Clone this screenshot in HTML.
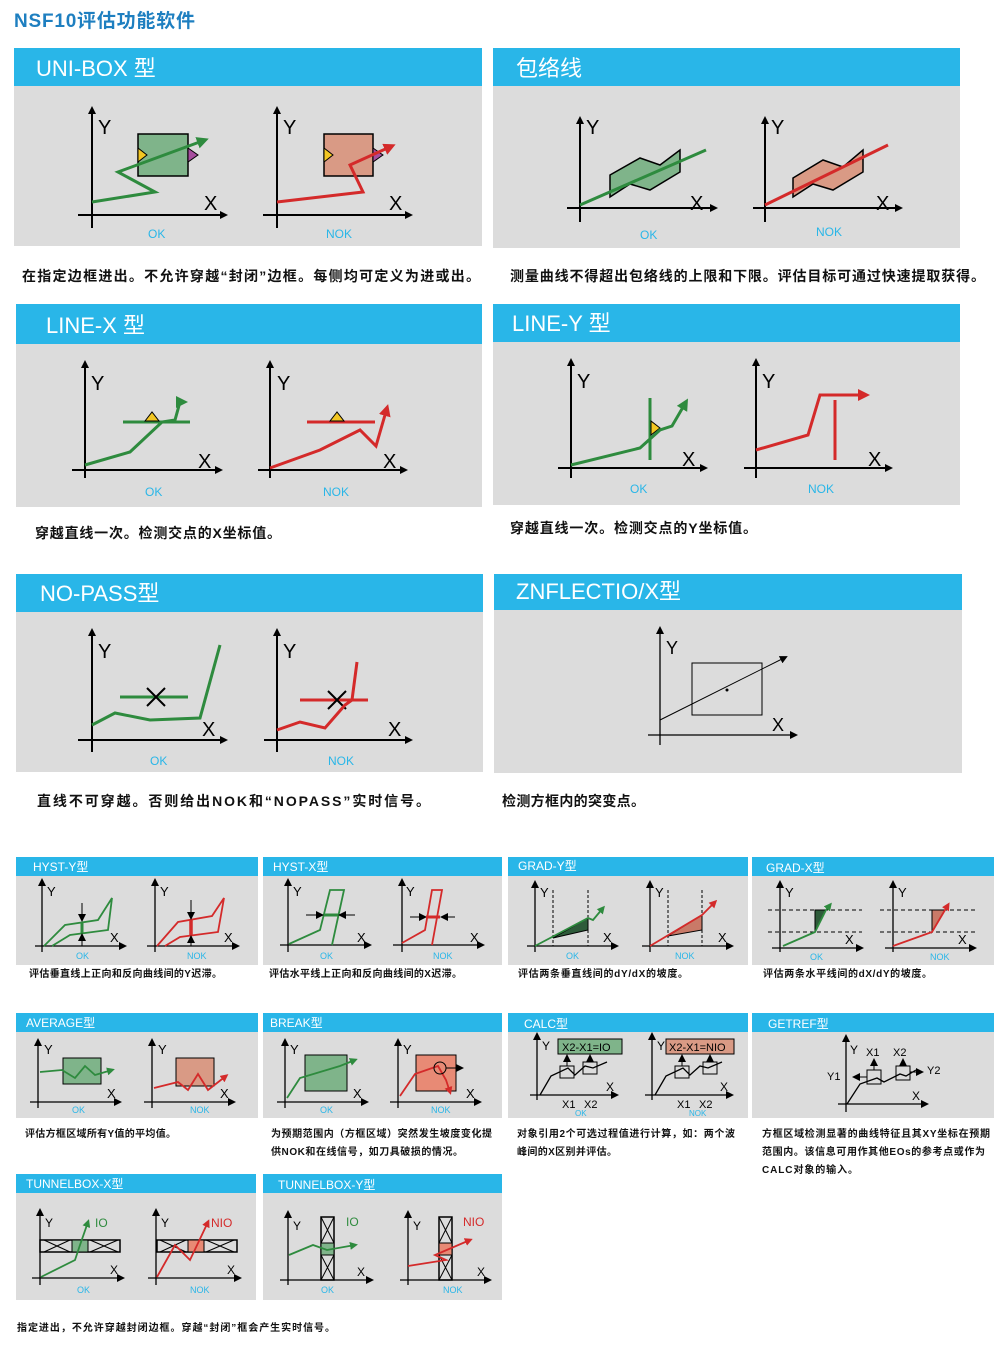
<!DOCTYPE html>
<html><head><meta charset="utf-8"><style>
html,body{margin:0;padding:0;background:#fff}
svg{display:block}
text{font-family:"Liberation Sans","Noto Sans CJK SC",sans-serif}
.hd{fill:#fff}
.cap{font-weight:bold;fill:#111}
.ok{fill:#29b6e8}
.ax{stroke:#000;stroke-width:2;fill:none}
.axs{stroke:#000;stroke-width:1.3;fill:none}
.g{stroke:#2e8b3e;stroke-width:3;fill:none}
.r{stroke:#d42a2a;stroke-width:3;fill:none}
.gs{stroke:#2e8b3e;stroke-width:1.8;fill:none}
.rs{stroke:#d42a2a;stroke-width:1.8;fill:none}
.bx{stroke:#000;stroke-width:1.5}
</style></head><body>
<svg width="1000" height="1347" viewBox="0 0 1000 1347" xmlns="http://www.w3.org/2000/svg">
<defs>
<marker id="ak" markerWidth="8" markerHeight="8" refX="6" refY="4" orient="auto" markerUnits="userSpaceOnUse"><path d="M0,0 L8,4 L0,8z" fill="#000"/></marker>
<marker id="ag" markerWidth="12" markerHeight="12" refX="8" refY="6" orient="auto" markerUnits="userSpaceOnUse"><path d="M0,0 L12,6 L0,12z" fill="#2e8b3e"/></marker>
<marker id="ar" markerWidth="12" markerHeight="12" refX="8" refY="6" orient="auto" markerUnits="userSpaceOnUse"><path d="M0,0 L12,6 L0,12z" fill="#d42a2a"/></marker>
<marker id="ags" markerWidth="8" markerHeight="8" refX="5" refY="4" orient="auto" markerUnits="userSpaceOnUse"><path d="M0,0 L8,4 L0,8z" fill="#2e8b3e"/></marker>
<marker id="ars" markerWidth="8" markerHeight="8" refX="5" refY="4" orient="auto" markerUnits="userSpaceOnUse"><path d="M0,0 L8,4 L0,8z" fill="#d42a2a"/></marker>
</defs>

<text x="14" y="27" font-size="19" font-weight="bold" fill="#1e7fc0" textLength="181" lengthAdjust="spacing">NSF10评估功能软件</text>

<rect x="14" y="48" width="468" height="38" fill="#29b6e8"/><rect x="14" y="86" width="468" height="160" fill="#dcdcdc"/>
<text class="hd" x="36" y="76" font-size="22">UNI-BOX 型</text>
<rect x="493" y="48" width="467" height="38" fill="#29b6e8"/><rect x="493" y="86" width="467" height="162" fill="#dcdcdc"/>
<text class="hd" x="516" y="76" font-size="22">包络线</text>
<text class="cap" x="22" y="281" font-size="14" textLength="458" lengthAdjust="spacing">在指定边框进出。不允许穿越“封闭”边框。每侧均可定义为进或出。</text>
<text class="cap" x="510" y="281" font-size="14" textLength="475" lengthAdjust="spacing">测量曲线不得超出包络线的上限和下限。评估目标可通过快速提取获得。</text>

<rect x="16" y="304" width="466" height="40" fill="#29b6e8"/><rect x="16" y="344" width="466" height="163" fill="#dcdcdc"/>
<text class="hd" x="46" y="333" font-size="22">LINE-X 型</text>
<rect x="493" y="304" width="467" height="38" fill="#29b6e8"/><rect x="493" y="342" width="467" height="163" fill="#dcdcdc"/>
<text class="hd" x="512" y="331" font-size="22">LINE-Y 型</text>
<text class="cap" x="35" y="538" font-size="14" textLength="246" lengthAdjust="spacing">穿越直线一次。检测交点的X坐标值。</text>
<text class="cap" x="510" y="533" font-size="14" textLength="247" lengthAdjust="spacing">穿越直线一次。检测交点的Y坐标值。</text>

<rect x="16" y="574" width="467" height="38" fill="#29b6e8"/><rect x="16" y="612" width="467" height="160" fill="#dcdcdc"/>
<text class="hd" x="40" y="601" font-size="22">NO-PASS型</text>
<rect x="494" y="574" width="468" height="36" fill="#29b6e8"/><rect x="494" y="610" width="468" height="163" fill="#dcdcdc"/>
<text class="hd" x="516" y="599" font-size="22">ZNFLECTIO/X型</text>
<text class="cap" x="37" y="806" font-size="14" textLength="393" lengthAdjust="spacing">直线不可穿越。否则给出NOK和“NOPASS”实时信号。</text>
<text class="cap" x="502" y="806" font-size="14" textLength="143" lengthAdjust="spacing">检测方框内的突变点。</text>

<g>
<line class="ax" x1="92" y1="228" x2="92" y2="108" marker-end="url(#ak)"/><line class="ax" x1="78" y1="215" x2="226" y2="215" marker-end="url(#ak)"/>
<text x="98" y="134" font-size="20">Y</text><text x="204" y="210" font-size="20">X</text>
<rect x="138" y="134" width="50" height="42" fill="#7fb48a" class="bx"/>
<path d="M138,148 L147,155 L138,162z" fill="#f2c623" stroke="#000"/><path d="M188,148 L198,155 L188,162z" fill="#a64d9e" stroke="#000"/>
<polyline class="g" points="92,202 155,192 118,172 205,140" marker-end="url(#ag)"/>
<text class="ok" x="148" y="238" font-size="12">OK</text>
<line class="ax" x1="277" y1="228" x2="277" y2="108" marker-end="url(#ak)"/><line class="ax" x1="263" y1="215" x2="411" y2="215" marker-end="url(#ak)"/>
<text x="283" y="134" font-size="20">Y</text><text x="389" y="210" font-size="20">X</text>
<rect x="324" y="134" width="49" height="42" fill="#d99a85" class="bx"/>
<path d="M324,148 L333,155 L324,162z" fill="#f2c623" stroke="#000"/><path d="M373,148 L383,155 L373,162z" fill="#a64d9e" stroke="#000"/>
<polyline class="r" points="277,202 363,192 350,165 392,146" marker-end="url(#ar)"/>
<text class="ok" x="326" y="238" font-size="12">NOK</text>
</g>
<g>
<line class="ax" x1="580" y1="222" x2="580" y2="118" marker-end="url(#ak)"/><line class="ax" x1="567" y1="208" x2="716" y2="208" marker-end="url(#ak)"/>
<text x="586" y="134" font-size="20">Y</text><text x="690" y="210" font-size="20">X</text>
<path d="M610,175 L640,158 L660,165 L680,150 L680,172 L650,190 L630,184 L610,197z" fill="#7fb48a" stroke="#000" stroke-width="1.5"/>
<line class="g" x1="580" y1="205" x2="706" y2="150"/>
<text class="ok" x="640" y="239" font-size="12">OK</text>
<line class="ax" x1="765" y1="222" x2="765" y2="118" marker-end="url(#ak)"/><line class="ax" x1="753" y1="208" x2="901" y2="208" marker-end="url(#ak)"/>
<text x="771" y="134" font-size="20">Y</text><text x="876" y="210" font-size="20">X</text>
<path d="M793,178 L823,160 L843,167 L863,150 L863,172 L833,190 L813,184 L793,197z" fill="#d99a85" stroke="#000" stroke-width="1.5"/>
<line class="r" x1="765" y1="205" x2="888" y2="145"/>
<text class="ok" x="816" y="236" font-size="12">NOK</text>
</g>
<g>
<line class="ax" x1="85" y1="478" x2="85" y2="362" marker-end="url(#ak)"/><line class="ax" x1="72" y1="470" x2="221" y2="470" marker-end="url(#ak)"/>
<text x="91" y="390" font-size="20">Y</text><text x="198" y="468" font-size="20">X</text>
<line class="g" x1="123" y1="422" x2="190" y2="422"/><path d="M145,421 L152,412 L159,421z" fill="#f2c623" stroke="#000"/>
<polyline class="g" points="85,465 130,452 162,422 175,420 180,402 184,402" marker-end="url(#ag)"/>
<text class="ok" x="145" y="496" font-size="12">OK</text>
<line class="ax" x1="270" y1="478" x2="270" y2="362" marker-end="url(#ak)"/><line class="ax" x1="258" y1="470" x2="406" y2="470" marker-end="url(#ak)"/>
<text x="277" y="390" font-size="20">Y</text><text x="383" y="468" font-size="20">X</text>
<line class="r" x1="307" y1="422" x2="375" y2="422"/><path d="M330,421 L337,412 L344,421z" fill="#f2c623" stroke="#000"/>
<polyline class="r" points="270,468 320,450 360,430 376,446 387,408" marker-end="url(#ar)"/>
<text class="ok" x="323" y="496" font-size="12">NOK</text>
</g>
<g>
<line class="ax" x1="571" y1="478" x2="571" y2="360" marker-end="url(#ak)"/><line class="ax" x1="558" y1="468" x2="706" y2="468" marker-end="url(#ak)"/>
<text x="577" y="388" font-size="20">Y</text><text x="682" y="466" font-size="20">X</text>
<line class="g" x1="650" y1="398" x2="650" y2="460"/><path d="M651,421 L660,428 L651,435z" fill="#f2c623" stroke="#000"/>
<polyline class="g" points="571,465 640,448 660,430 672,426 686,402" marker-end="url(#ag)"/>
<text class="ok" x="630" y="493" font-size="12">OK</text>
<line class="ax" x1="756" y1="478" x2="756" y2="360" marker-end="url(#ak)"/><line class="ax" x1="744" y1="468" x2="891" y2="468" marker-end="url(#ak)"/>
<text x="762" y="388" font-size="20">Y</text><text x="868" y="466" font-size="20">X</text>
<polyline class="r" points="756,450 808,435 820,395 866,395" marker-end="url(#ar)"/>
<line class="r" x1="835" y1="400" x2="835" y2="460"/>
<text class="ok" x="808" y="493" font-size="12">NOK</text>
</g>
<g>
<line class="ax" x1="92" y1="752" x2="92" y2="630" marker-end="url(#ak)"/><line class="ax" x1="78" y1="740" x2="226" y2="740" marker-end="url(#ak)"/>
<text x="98" y="658" font-size="20">Y</text><text x="202" y="736" font-size="20">X</text>
<line class="g" x1="120" y1="697" x2="188" y2="697"/><path d="M147,688 L165,706 M165,688 L147,706" stroke="#000" stroke-width="2"/>
<polyline class="g" points="92,725 115,713 150,720 200,718 220,645"/>
<text class="ok" x="150" y="765" font-size="12">OK</text>
<line class="ax" x1="277" y1="752" x2="277" y2="630" marker-end="url(#ak)"/><line class="ax" x1="264" y1="740" x2="411" y2="740" marker-end="url(#ak)"/>
<text x="283" y="658" font-size="20">Y</text><text x="388" y="736" font-size="20">X</text>
<line class="r" x1="300" y1="700" x2="368" y2="700"/><path d="M328,691 L346,709 M346,691 L328,709" stroke="#000" stroke-width="2"/>
<polyline class="r" points="277,730 300,722 325,728 345,705 352,700 357,662"/>
<text class="ok" x="328" y="765" font-size="12">NOK</text>
</g>
<g>
<line class="axs" x1="660" y1="745" x2="660" y2="628" marker-end="url(#ak)"/><line class="axs" x1="648" y1="735" x2="796" y2="735" marker-end="url(#ak)"/>
<text x="666" y="654" font-size="18">Y</text><text x="772" y="731" font-size="18">X</text>
<rect x="692" y="663" width="70" height="52" fill="none" stroke="#000" stroke-width="1"/>
<line x1="660" y1="720" x2="786" y2="657" stroke="#000" stroke-width="1" marker-end="url(#ak)"/>
<circle cx="727" cy="690" r="1.5"/>
</g>

<g font-size="11">
<rect x="16" y="857" width="242" height="19" fill="#29b6e8"/><rect x="16" y="876" width="242" height="89" fill="#dcdcdc"/>
<text class="hd" x="33" y="871" font-size="12">HYST-Y型</text>
<rect x="263" y="857" width="239" height="19" fill="#29b6e8"/><rect x="263" y="876" width="239" height="89" fill="#dcdcdc"/>
<text class="hd" x="273" y="871" font-size="12">HYST-X型</text>
<rect x="508" y="857" width="240" height="19" fill="#29b6e8"/><rect x="508" y="876" width="240" height="89" fill="#dcdcdc"/>
<text class="hd" x="518" y="870" font-size="12">GRAD-Y型</text>
<rect x="752" y="857" width="242" height="19" fill="#29b6e8"/><rect x="752" y="876" width="242" height="89" fill="#dcdcdc"/>
<text class="hd" x="766" y="872" font-size="12">GRAD-X型</text>
<text class="cap" x="29" y="977" font-size="10" textLength="193" lengthAdjust="spacing">评估垂直线上正向和反向曲线间的Y迟滞。</text>
<text class="cap" x="269" y="977" font-size="10" textLength="193" lengthAdjust="spacing">评估水平线上正向和反向曲线间的X迟滞。</text>
<text class="cap" x="518" y="977" font-size="10" textLength="170" lengthAdjust="spacing">评估两条垂直线间的dY/dX的坡度。</text>
<text class="cap" x="763" y="977" font-size="10" textLength="169" lengthAdjust="spacing">评估两条水平线间的dX/dY的坡度。</text>

<line class="axs" x1="42" y1="952" x2="42" y2="880" marker-end="url(#ak)"/><line class="axs" x1="35" y1="946" x2="125" y2="946" marker-end="url(#ak)"/>
<text x="47" y="896" font-size="13">Y</text><text x="110" y="942" font-size="13">X</text>
<path d="M44,946 L65,925 L98,920 L112,898 L108,930 L70,935 L52,946" class="gs"/>
<line x1="82" y1="903" x2="82" y2="920" stroke="#000" marker-end="url(#ak)"/><line x1="82" y1="946" x2="82" y2="935" stroke="#000" marker-end="url(#ak)"/>
<line x1="82" y1="922" x2="82" y2="933" stroke="#2e8b3e" stroke-width="3"/>
<text class="ok" x="76" y="959" font-size="9">OK</text>
<line class="axs" x1="155" y1="952" x2="155" y2="880" marker-end="url(#ak)"/><line class="axs" x1="147" y1="946" x2="238" y2="946" marker-end="url(#ak)"/>
<text x="160" y="896" font-size="13">Y</text><text x="224" y="942" font-size="13">X</text>
<path d="M157,946 L178,922 L212,916 L224,898 L218,932 L180,937 L165,946" class="rs"/>
<line x1="191" y1="900" x2="191" y2="918" stroke="#000" marker-end="url(#ak)"/><line x1="191" y1="946" x2="191" y2="937" stroke="#000" marker-end="url(#ak)"/>
<line x1="191" y1="920" x2="191" y2="935" stroke="#d42a2a" stroke-width="3.5"/>
<text class="ok" x="187" y="959" font-size="9">NOK</text>
<line class="axs" x1="288" y1="952" x2="288" y2="880" marker-end="url(#ak)"/><line class="axs" x1="280" y1="945" x2="370" y2="945" marker-end="url(#ak)"/>
<text x="293" y="896" font-size="13">Y</text><text x="357" y="942" font-size="13">X</text>
<path d="M289,944 L320,930 L330,890 L344,890 L332,945" class="gs"/>
<line x1="306" y1="915" x2="322" y2="915" stroke="#000" marker-end="url(#ak)"/><line x1="355" y1="915" x2="340" y2="915" stroke="#000" marker-end="url(#ak)"/>
<line x1="324" y1="915" x2="338" y2="915" stroke="#2e8b3e" stroke-width="3"/>
<text class="ok" x="320" y="959" font-size="9">OK</text>
<line class="axs" x1="402" y1="952" x2="402" y2="880" marker-end="url(#ak)"/><line class="axs" x1="393" y1="945" x2="483" y2="945" marker-end="url(#ak)"/>
<text x="406" y="896" font-size="13">Y</text><text x="470" y="942" font-size="13">X</text>
<path d="M402,943 L425,930 L432,890 L442,890 L432,945" class="rs"/>
<line x1="410" y1="917" x2="425" y2="917" stroke="#000" marker-end="url(#ak)"/><line x1="455" y1="917" x2="442" y2="917" stroke="#000" marker-end="url(#ak)"/>
<line x1="426" y1="917" x2="440" y2="917" stroke="#d42a2a" stroke-width="3"/>
<text class="ok" x="433" y="959" font-size="9">NOK</text>
<line class="axs" x1="535" y1="952" x2="535" y2="882" marker-end="url(#ak)"/><line class="axs" x1="527" y1="946" x2="617" y2="946" marker-end="url(#ak)"/>
<text x="540" y="897" font-size="13">Y</text><text x="603" y="942" font-size="13">X</text>
<line x1="553" y1="890" x2="553" y2="946" stroke="#000" stroke-dasharray="3,2"/><line x1="588" y1="890" x2="588" y2="946" stroke="#000" stroke-dasharray="3,2"/>
<path d="M553,938 L588,918 L588,930z" fill="#2e5b3a" stroke="#000"/>
<polyline class="gs" points="535,946 588,918 593,920 603,908" marker-end="url(#ags)"/>
<text class="ok" x="566" y="959" font-size="9">OK</text>
<line class="axs" x1="650" y1="952" x2="650" y2="882" marker-end="url(#ak)"/><line class="axs" x1="642" y1="946" x2="732" y2="946" marker-end="url(#ak)"/>
<text x="655" y="897" font-size="13">Y</text><text x="718" y="942" font-size="13">X</text>
<line x1="668" y1="890" x2="668" y2="946" stroke="#000" stroke-dasharray="3,2"/><line x1="702" y1="890" x2="702" y2="946" stroke="#000" stroke-dasharray="3,2"/>
<path d="M668,936 L702,915 L702,930z" fill="#c97a68" stroke="#000"/>
<polyline class="rs" points="650,946 702,915 715,902" marker-end="url(#ars)"/>
<text class="ok" x="675" y="959" font-size="9">NOK</text>
<line class="axs" x1="780" y1="952" x2="780" y2="882" marker-end="url(#ak)"/><line class="axs" x1="772" y1="948" x2="862" y2="948" marker-end="url(#ak)"/>
<text x="785" y="897" font-size="13">Y</text><text x="845" y="944" font-size="13">X</text>
<line x1="768" y1="910" x2="862" y2="910" stroke="#000" stroke-dasharray="4,3"/><line x1="768" y1="932" x2="862" y2="932" stroke="#000" stroke-dasharray="4,3"/>
<path d="M815,932 L815,910 L826,910z" fill="#2e5b3a" stroke="#000"/>
<polyline class="gs" points="783,946 815,932 826,910 830,905" marker-end="url(#ags)"/>
<text class="ok" x="810" y="960" font-size="9">OK</text>
<line class="axs" x1="893" y1="952" x2="893" y2="882" marker-end="url(#ak)"/><line class="axs" x1="885" y1="948" x2="975" y2="948" marker-end="url(#ak)"/>
<text x="898" y="897" font-size="13">Y</text><text x="958" y="944" font-size="13">X</text>
<line x1="880" y1="910" x2="975" y2="910" stroke="#000" stroke-dasharray="4,3"/><line x1="880" y1="932" x2="975" y2="932" stroke="#000" stroke-dasharray="4,3"/>
<path d="M932,932 L932,910 L945,910z" fill="#c97a68" stroke="#000"/>
<polyline class="rs" points="893,946 932,932 945,910 948,905" marker-end="url(#ars)"/>
<text class="ok" x="930" y="960" font-size="9">NOK</text>

<rect x="16" y="1013" width="242" height="19" fill="#29b6e8"/><rect x="16" y="1032" width="242" height="86" fill="#dcdcdc"/>
<text class="hd" x="26" y="1027" font-size="12">AVERAGE型</text>
<rect x="263" y="1013" width="239" height="19" fill="#29b6e8"/><rect x="263" y="1032" width="239" height="86" fill="#dcdcdc"/>
<text class="hd" x="270" y="1027" font-size="12">BREAK型</text>
<rect x="508" y="1013" width="240" height="19" fill="#29b6e8"/><rect x="508" y="1032" width="240" height="86" fill="#dcdcdc"/>
<text class="hd" x="524" y="1028" font-size="12">CALC型</text>
<rect x="752" y="1013" width="242" height="19" fill="#29b6e8"/><rect x="752" y="1032" width="242" height="86" fill="#dcdcdc"/>
<text class="hd" x="768" y="1028" font-size="12">GETREF型</text>
<text class="cap" x="25" y="1137" font-size="10" textLength="151" lengthAdjust="spacing">评估方框区域所有Y值的平均值。</text>
<text class="cap" x="271" y="1137" font-size="10" textLength="221" lengthAdjust="spacing">为预期范围内（方框区域）突然发生坡度变化提</text>
<text class="cap" x="271" y="1155" font-size="10" textLength="192" lengthAdjust="spacing">供NOK和在线信号，如刀具破损的情况。</text>
<text class="cap" x="517" y="1137" font-size="10" textLength="218" lengthAdjust="spacing">对象引用2个可选过程值进行计算，如：两个波</text>
<text class="cap" x="517" y="1155" font-size="10" textLength="100" lengthAdjust="spacing">峰间的X区别并评估。</text>
<text class="cap" x="762" y="1137" font-size="10" textLength="228" lengthAdjust="spacing">方框区域检测显著的曲线特征且其XY坐标在预期</text>
<text class="cap" x="762" y="1155" font-size="10" textLength="223" lengthAdjust="spacing">范围内。该信息可用作其他EOs的参考点或作为</text>
<text class="cap" x="762" y="1173" font-size="10" textLength="96" lengthAdjust="spacing">CALC对象的输入。</text>

<line class="axs" x1="38" y1="1108" x2="38" y2="1040" marker-end="url(#ak)"/><line class="axs" x1="30" y1="1102" x2="120" y2="1102" marker-end="url(#ak)"/>
<text x="44" y="1054" font-size="13">Y</text><text x="107" y="1098" font-size="13">X</text>
<rect x="63" y="1058" width="38" height="26" fill="#7fb48a" stroke="#000"/>
<polyline class="gs" points="40,1072 62,1070 75,1078 85,1066 95,1075 112,1070" marker-end="url(#ags)"/>
<text class="ok" x="72" y="1113" font-size="9">OK</text>
<line class="axs" x1="152" y1="1108" x2="152" y2="1040" marker-end="url(#ak)"/><line class="axs" x1="144" y1="1102" x2="234" y2="1102" marker-end="url(#ak)"/>
<text x="158" y="1054" font-size="13">Y</text><text x="220" y="1098" font-size="13">X</text>
<rect x="176" y="1058" width="38" height="28" fill="#d99a85" stroke="#000"/>
<polyline class="rs" points="154,1088 178,1082 188,1090 198,1074 208,1090 226,1076" marker-end="url(#ars)"/>
<text class="ok" x="190" y="1113" font-size="9">NOK</text>
<line class="axs" x1="285" y1="1108" x2="285" y2="1040" marker-end="url(#ak)"/><line class="axs" x1="277" y1="1102" x2="367" y2="1102" marker-end="url(#ak)"/>
<text x="290" y="1054" font-size="13">Y</text><text x="353" y="1098" font-size="13">X</text>
<rect x="305" y="1055" width="42" height="36" fill="#7fb48a" stroke="#000"/>
<polyline class="gs" points="287,1098 300,1078 340,1066 355,1060" marker-end="url(#ags)"/>
<text class="ok" x="320" y="1113" font-size="9">OK</text>
<line class="axs" x1="398" y1="1108" x2="398" y2="1040" marker-end="url(#ak)"/><line class="axs" x1="390" y1="1102" x2="480" y2="1102" marker-end="url(#ak)"/>
<text x="403" y="1054" font-size="13">Y</text><text x="466" y="1098" font-size="13">X</text>
<rect x="416" y="1055" width="40" height="36" fill="#e88a75" stroke="#000"/>
<polyline class="rs" points="400,1096 415,1074 438,1066 446,1080 450,1092" marker-end="url(#ars)"/>
<circle cx="440" cy="1068" r="6" fill="none" stroke="#000"/><line x1="446" y1="1068" x2="462" y2="1068" stroke="#000" marker-end="url(#ak)"/>
<text class="ok" x="431" y="1113" font-size="9">NOK</text>
<line class="axs" x1="537" y1="1100" x2="537" y2="1034" marker-end="url(#ak)"/><line class="axs" x1="530" y1="1095" x2="617" y2="1095" marker-end="url(#ak)"/>
<text x="542" y="1050" font-size="12">Y</text><text x="606" y="1091" font-size="12">X</text>
<rect x="558" y="1039" width="64" height="15" fill="#7fb48a" stroke="#000"/><text x="562" y="1051" font-size="11">X2-X1=IO</text>
<polyline class="axs" points="540,1095 551,1076 568,1068 575,1075 585,1066 593,1068 607,1062"/>
<rect x="560" y="1066" width="14" height="12" fill="none" stroke="#000"/><rect x="583" y="1062" width="14" height="12" fill="none" stroke="#000"/>
<line x1="567" y1="1066" x2="567" y2="1056" stroke="#000" marker-end="url(#ak)"/><line x1="590" y1="1062" x2="590" y2="1056" stroke="#000" marker-end="url(#ak)"/>
<text x="562" y="1108" font-size="11">X1</text><text x="584" y="1108" font-size="11">X2</text>
<text class="ok" x="575" y="1116" font-size="8">OK</text>
<line class="axs" x1="652" y1="1100" x2="652" y2="1034" marker-end="url(#ak)"/><line class="axs" x1="645" y1="1095" x2="732" y2="1095" marker-end="url(#ak)"/>
<text x="657" y="1050" font-size="12">Y</text><text x="720" y="1091" font-size="12">X</text>
<rect x="666" y="1039" width="68" height="15" fill="#d99a85" stroke="#000"/><text x="669" y="1051" font-size="11">X2-X1=NIO</text>
<polyline class="axs" points="655,1095 666,1076 683,1068 690,1075 700,1066 708,1068 722,1062"/>
<rect x="675" y="1066" width="14" height="12" fill="none" stroke="#000"/><rect x="703" y="1062" width="14" height="12" fill="none" stroke="#000"/>
<line x1="682" y1="1066" x2="682" y2="1056" stroke="#000" marker-end="url(#ak)"/><line x1="710" y1="1062" x2="710" y2="1056" stroke="#000" marker-end="url(#ak)"/>
<text x="677" y="1108" font-size="11">X1</text><text x="699" y="1108" font-size="11">X2</text>
<text class="ok" x="689" y="1116" font-size="8">NOK</text>
<line class="axs" x1="846" y1="1112" x2="846" y2="1036" marker-end="url(#ak)"/><line class="axs" x1="838" y1="1104" x2="927" y2="1104" marker-end="url(#ak)"/>
<text x="850" y="1054" font-size="12">Y</text><text x="912" y="1100" font-size="12">X</text>
<text x="866" y="1056" font-size="11">X1</text><text x="893" y="1056" font-size="11">X2</text>
<text x="827" y="1080" font-size="11">Y1</text><text x="927" y="1074" font-size="11">Y2</text>
<polyline class="axs" points="847,1104 860,1084 877,1078 884,1082 900,1074 906,1076 916,1070"/>
<rect x="867" y="1070" width="14" height="14" fill="none" stroke="#000"/><rect x="896" y="1066" width="14" height="14" fill="none" stroke="#000"/>
<line x1="874" y1="1070" x2="874" y2="1060" stroke="#000" marker-end="url(#ak)"/><line x1="903" y1="1066" x2="903" y2="1060" stroke="#000" marker-end="url(#ak)"/>
<line x1="867" y1="1077" x2="854" y2="1077" stroke="#000" marker-end="url(#ak)"/><line x1="910" y1="1072" x2="922" y2="1072" stroke="#000" marker-end="url(#ak)"/>

<rect x="16" y="1174" width="240" height="19" fill="#29b6e8"/><rect x="16" y="1193" width="240" height="107" fill="#dcdcdc"/>
<text class="hd" x="26" y="1188" font-size="12">TUNNELBOX-X型</text>
<rect x="263" y="1174" width="239" height="19" fill="#29b6e8"/><rect x="263" y="1193" width="239" height="107" fill="#dcdcdc"/>
<text class="hd" x="278" y="1189" font-size="12">TUNNELBOX-Y型</text>
<text class="cap" x="17" y="1331" font-size="10" textLength="318" lengthAdjust="spacing">指定进出，不允许穿越封闭边框。穿越“封闭”框会产生实时信号。</text>

<line class="axs" x1="40" y1="1285" x2="40" y2="1210" marker-end="url(#ak)"/><line class="axs" x1="32" y1="1278" x2="123" y2="1278" marker-end="url(#ak)"/>
<text x="45" y="1227" font-size="12">Y</text><text x="110" y="1274" font-size="12">X</text>
<rect x="40" y="1240" width="80" height="12" fill="none" stroke="#000" stroke-width="1.5"/>
<rect x="72" y="1240" width="16" height="12" fill="#7fb48a" stroke="#000"/>
<path d="M44,1240 L70,1252 M70,1240 L44,1252 M90,1240 L118,1252 M118,1240 L90,1252" stroke="#000"/>
<polyline class="gs" points="41,1277 75,1260 80,1245 88,1222" marker-end="url(#ags)"/>
<text x="95" y="1227" font-size="12" fill="#2e8b3e">IO</text>
<text class="ok" x="77" y="1293" font-size="9">OK</text>
<line class="axs" x1="156" y1="1285" x2="156" y2="1210" marker-end="url(#ak)"/><line class="axs" x1="148" y1="1278" x2="240" y2="1278" marker-end="url(#ak)"/>
<text x="161" y="1227" font-size="12">Y</text><text x="227" y="1274" font-size="12">X</text>
<rect x="157" y="1240" width="80" height="12" fill="none" stroke="#000" stroke-width="1.5"/>
<rect x="188" y="1240" width="16" height="12" fill="#e88a75" stroke="#000"/>
<path d="M160,1240 L186,1252 M186,1240 L160,1252 M206,1240 L234,1252 M234,1240 L206,1252" stroke="#000"/>
<polyline class="rs" points="157,1277 175,1245 190,1260 208,1222" marker-end="url(#ars)"/>
<text x="211" y="1227" font-size="12" fill="#d42a2a">NIO</text>
<text class="ok" x="190" y="1293" font-size="9">NOK</text>
<line class="axs" x1="288" y1="1285" x2="288" y2="1212" marker-end="url(#ak)"/><line class="axs" x1="280" y1="1280" x2="372" y2="1280" marker-end="url(#ak)"/>
<text x="293" y="1230" font-size="12">Y</text><text x="357" y="1276" font-size="12">X</text>
<rect x="321" y="1217" width="13" height="63" fill="none" stroke="#000" stroke-width="1.5"/>
<rect x="321" y="1243" width="13" height="12" fill="#7fb48a" stroke="#000"/>
<path d="M321,1217 L334,1243 M334,1217 L321,1243 M321,1255 L334,1280 M334,1255 L321,1280" stroke="#000"/>
<polyline class="gs" points="289,1255 313,1245 327,1250 355,1245" marker-end="url(#ags)"/>
<text x="346" y="1226" font-size="12" fill="#2e8b3e">IO</text>
<text class="ok" x="321" y="1293" font-size="9">OK</text>
<line class="axs" x1="408" y1="1285" x2="408" y2="1212" marker-end="url(#ak)"/><line class="axs" x1="400" y1="1280" x2="490" y2="1280" marker-end="url(#ak)"/>
<text x="413" y="1230" font-size="12">Y</text><text x="477" y="1276" font-size="12">X</text>
<rect x="439" y="1217" width="13" height="63" fill="none" stroke="#000" stroke-width="1.5"/>
<rect x="439" y="1243" width="13" height="12" fill="#e88a75" stroke="#000"/>
<path d="M439,1217 L452,1243 M452,1217 L439,1243 M439,1255 L452,1280 M452,1255 L439,1280" stroke="#000"/>
<polyline class="rs" points="408,1266 446,1260 435,1255 470,1240" marker-end="url(#ars)"/>
<text x="463" y="1226" font-size="12" fill="#d42a2a">NIO</text>
<text class="ok" x="443" y="1293" font-size="9">NOK</text>
</g>
</svg>
</body></html>
